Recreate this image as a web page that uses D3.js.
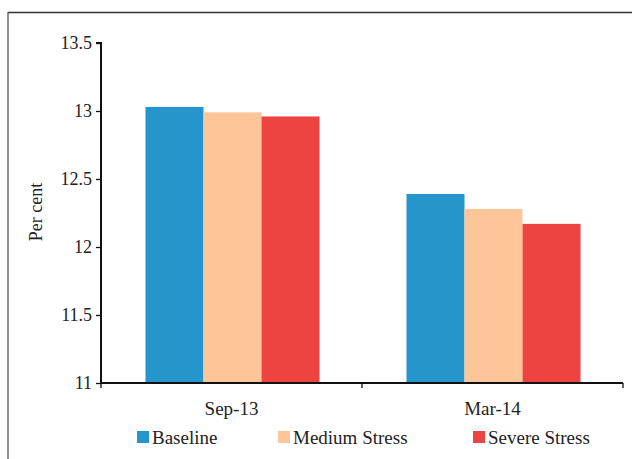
<!DOCTYPE html>
<html>
<head>
<meta charset="utf-8">
<script src="https://cdn.jsdelivr.net/npm/d3@7"></script>
<style>
  html, body { margin: 0; padding: 0; background: #fff; }
  svg { display: block; }
  text { font-family: "Liberation Serif", "DejaVu Serif", serif; fill: #222; }
</style>
</head>
<body>
<svg id="chart" width="632" height="459"></svg>
<script>
const categories = ["Sep-13", "Mar-14"];
const seriesNames = ["Baseline", "Medium Stress", "Severe Stress"];
const baseline = [13.03, 12.39];
const mediumStress = [12.99, 12.28];
const severeStress = [12.96, 12.17];
const yTicks = [11, 11.5, 12, 12.5, 13, 13.5];
const colors = ["#2596cc", "#fdc59a", "#ee4441"];

const seriesValues = [baseline, mediumStress, severeStress];
const data = categories.map((c, i) => ({
  cat: c,
  values: seriesNames.map((s, j) => ({ key: s, value: seriesValues[j][i] }))
}));

const svg = d3.select("#chart");
const m = { left: 101, right: 623, top: 43, bottom: 383 };

// frame
svg.append("line").attr("x1", 8).attr("x2", 632).attr("y1", 12.5).attr("y2", 12.5)
  .attr("stroke", "#333").attr("stroke-width", 1.3);
svg.append("line").attr("x1", 8).attr("x2", 8).attr("y1", 12).attr("y2", 459)
  .attr("stroke", "#555").attr("stroke-width", 1.3);

const y = d3.scaleLinear().domain([11, 13.5]).range([m.bottom, m.top]);
const x0 = d3.scaleBand().domain(categories).range([m.left, m.right]).padding(0);
const bw = x0.bandwidth();
const x1 = d3.scaleBand().domain(seriesNames).range([bw / 6 + 1, bw * 5 / 6 + 1]).padding(0);
const color = d3.scaleOrdinal().domain(seriesNames).range(colors);

// bars
const g = svg.append("g");
g.selectAll("g.grp").data(data).join("g")
  .attr("transform", d => `translate(${x0(d.cat)},0)`)
  .selectAll("rect").data(d => d.values).join("rect")
  .attr("x", d => x1(d.key))
  .attr("width", x1.bandwidth())
  .attr("y", d => y(d.value))
  .attr("height", d => y(11) - y(d.value))
  .attr("fill", d => color(d.key));

// y axis
const yAxis = d3.axisLeft(y).tickValues(yTicks).tickSize(5).tickPadding(4)
  .tickFormat(d => String(d));
const ya = svg.append("g").attr("transform", `translate(${m.left},0)`).call(yAxis);
ya.select(".domain").attr("stroke", "#111").attr("stroke-width", 2)
  .attr("d", `M-5,${m.top}H0V${m.bottom}`);
ya.selectAll(".tick line").attr("stroke", "#111").attr("stroke-width", 1.3);
ya.selectAll(".tick text").attr("font-size", 18).attr("font-family", "Liberation Serif").attr("fill", "#222");

// x axis
const xa = svg.append("g").attr("transform", `translate(0,${m.bottom})`);
xa.append("line").attr("x1", m.left).attr("x2", m.right).attr("y1", 0).attr("y2", 0)
  .attr("stroke", "#111").attr("stroke-width", 2);
const xBounds = [m.left, ...categories.map(c => x0(c) + bw)];
xa.selectAll("line.t").data(xBounds).join("line").attr("class", "t")
  .attr("x1", d => d).attr("x2", d => d).attr("y1", 0).attr("y2", 5)
  .attr("stroke", "#111").attr("stroke-width", 1.3);
xa.selectAll("text.cat").data(categories).join("text").attr("class", "cat")
  .attr("x", d => x0(d) + bw / 2).attr("y", 32)
  .attr("text-anchor", "middle").attr("font-size", 19).text(d => d);

// y label
svg.append("text").attr("transform", "translate(42,212) rotate(-90)")
  .attr("text-anchor", "middle").attr("font-size", 18).text("Per cent");

// legend
const legX = [137, 278, 473];
const leg = svg.selectAll("g.leg").data(seriesNames).join("g").attr("class", "leg")
  .attr("transform", (d, i) => `translate(${legX[i]},431)`);
leg.append("rect").attr("width", 12).attr("height", 12).attr("fill", d => color(d));
leg.append("text").attr("x", 15).attr("y", 12.5).attr("font-size", 19).text(d => d);
</script>
</body>
</html>
